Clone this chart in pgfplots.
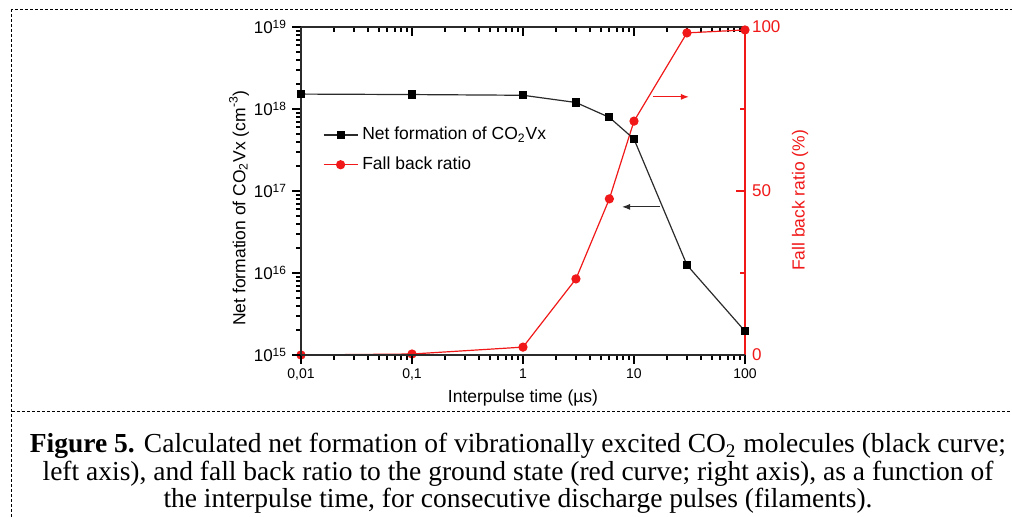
\documentclass[border=0pt]{standalone}
\usepackage{fontspec}
\setmainfont{Liberation Sans}
\newfontfamily\capfont{Liberation Serif}
\usepackage{pgfplots}
\pgfplotsset{compat=1.18}
\usetikzlibrary{arrows.meta}
\definecolor{ink}{HTML}{2B2B2B}
\definecolor{ratio}{HTML}{F01818}

\begin{document}
\begin{tikzpicture}
\useasboundingbox (-150.5pt,-81pt) rectangle (355.5pt,177.5pt);
% frame of the figure
\draw[line width=0.5pt,dash pattern=on 1.5pt off 1pt] (-144.5pt,-81pt) -- (-144.5pt,172.5pt) -- (356pt,172.5pt);
\draw[line width=0.5pt,dash pattern=on 1.5pt off 1pt] (-144.5pt,-28.25pt) -- (356pt,-28.25pt);

% right axis: fall back ratio
\begin{axis}[
  at={(0,0)},anchor=south west,
  scale only axis,width=222pt,height=164pt,
  xmode=log,xmin=0.01,xmax=100,ymin=0,ymax=100,
  axis x line*=top,axis y line*=right,
  tick align=inside,clip=false,
  xtick={0.01,0.1,1,10,100},xticklabels={},
  minor xtick={0.02,0.03,0.04,0.05,0.06,0.07,0.08,0.09,0.2,0.3,0.4,0.5,0.6,0.7,0.8,0.9,2,3,4,5,6,7,8,9,20,30,40,50,60,70,80,90},
  ytick={0,50,100},yticklabels={0,50,100},minor ytick={25,75},
  major tick length=4.5pt,minor tick length=2.5pt,
  x axis line style={ink,line width=0.6pt},
  y axis line style={ratio,line width=0.6pt},
  xtick style={draw=black,line width=1pt},
  ytick style={draw=ratio,line width=0.8pt},
  y tick label style={ratio,font=\fontsize{8.5}{10}\selectfont},
]
\addplot[ratio,line width=0.6pt,mark=*,mark size=2pt,mark options={ratio}] coordinates {
  (0.01,0)(0.1,0.3)(1,2.4)(3,23.2)(6,47.6)(10,71.3)(30,98.2)(100,99.1)};
\draw[ratio,line width=0.6pt,-{Latex[length=4pt,width=3pt]}] (axis cs:14.8,78.7) -- (axis cs:31.3,78.7);
\end{axis}

% left axis: net formation
\begin{axis}[
  at={(0,0)},anchor=south west,
  scale only axis,width=222pt,height=164pt,
  xmode=log,ymode=log,
  xmin=0.01,xmax=100,ymin=1e15,ymax=1e19,
  axis x line*=bottom,axis y line*=left,
  tick align=outside,clip=false,
  xtick={0.01,0.1,1,10,100},
  xticklabels={{0,01},{0,1},1,10,100},
  minor xtick={0.02,0.03,0.04,0.05,0.06,0.07,0.08,0.09,0.2,0.3,0.4,0.5,0.6,0.7,0.8,0.9,2,3,4,5,6,7,8,9,20,30,40,50,60,70,80,90},
  ytick={1e15,1e16,1e17,1e18,1e19},
  yticklabels={10\textsuperscript{15},10\textsuperscript{16},10\textsuperscript{17},10\textsuperscript{18},10\textsuperscript{19}},
  minor ytick={2e15,3e15,4e15,5e15,6e15,7e15,8e15,9e15,2e16,3e16,4e16,5e16,6e16,7e16,8e16,9e16,2e17,3e17,4e17,5e17,6e17,7e17,8e17,9e17,2e18,3e18,4e18,5e18,6e18,7e18,8e18,9e18},
  major tick length=4.5pt,minor tick length=2.5pt,
  axis line style={ink,line width=0.6pt},
  xtick style={draw=black,line width=1pt},
  ytick style={draw=black,line width=1pt},
  x tick label style={font=\fontsize{7}{8}\selectfont,yshift=1pt},
  y tick label style={font=\fontsize{8.5}{10}\selectfont,xshift=1pt},
  legend style={at={(0.035,0.72)},anchor=north west,draw=none,fill=none,
    font=\fontsize{8.75}{10}\selectfont,row sep=3pt},
  legend cell align=left,
]
\addplot[ink,line width=0.6pt,mark=square*,mark size=1.75pt,mark options={black}] coordinates {
  (0.01,1.52e18)(0.1,1.5e18)(1,1.47e18)(3,1.2e18)(6,7.9e17)(10,4.3e17)(30,1.25e16)(100,1.95e15)};
\addlegendentry{Net formation of CO\textsubscript{2}Vx}
\addlegendimage{ratio,line width=0.6pt,mark=*,mark size=2pt,mark options={ratio}}
\addlegendentry{Fall back ratio}
\draw[ink,line width=0.6pt,-{Latex[length=4pt,width=3pt]}] (axis cs:17.1,6.4e16) -- (axis cs:7.8,6.4e16);
\end{axis}

% axis titles
\node[font=\fontsize{8.75}{10}\selectfont] at (111pt,-21.5pt) {Interpulse time (µs)};
\node[rotate=90,font=\fontsize{8.75}{10}\selectfont] at (-31pt,73.5pt) {Net formation of CO\textsubscript{2}Vx (cm\textsuperscript{-3})};
\node[rotate=90,text=ratio,font=\fontsize{8.75}{10}\selectfont] at (249.5pt,77.25pt) {Fall back ratio (\%)};

% caption
\begin{scope}[every node/.style={anchor=base,inner sep=0pt,font=\capfont\fontsize{13.75}{15}\selectfont}]
\node at (108.5pt,-49pt) {\textbf{Figure 5.} Calculated net formation of vibrationally excited CO\textsubscript{2} molecules (black curve;};
\node at (108.5pt,-62.75pt) {left axis), and fall back ratio to the ground state (red curve; right axis), as a function of};
\node at (108.5pt,-76.5pt) {the interpulse time, for consecutive discharge pulses (filaments).};
\end{scope}
\end{tikzpicture}
\end{document}
